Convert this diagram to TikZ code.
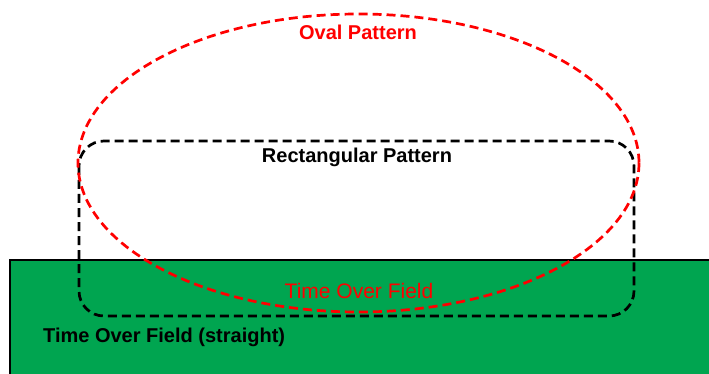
\documentclass[tikz,border=0pt]{standalone}
\usepackage{fontspec}
\setmainfont{Liberation Sans}
\definecolor{fieldgreen}{RGB}{0,165,80}
\definecolor{ovalred}{RGB}{255,0,0}
\begin{document}
\begin{tikzpicture}[x=1pt,y=-1pt,
  pattline/.style={line width=2.7pt,dash pattern=on 9pt off 5pt},
  lbl/.style={inner sep=0pt,font=\fontsize{20}{24}\selectfont\bfseries}]
\useasboundingbox (0,0) rectangle (709,374);
\clip (0,0) rectangle (709,374);
\fill[white] (0,0) rectangle (709,374);
% field
\draw[fill=fieldgreen,line width=2pt] (10,390) -- (10,260) -- (720,260) -- (720,390);
% rectangular pattern
\draw[pattline,black,rounded corners=25pt] (79,141) rectangle (634,316);
% oval pattern
\draw[pattline,ovalred] (358.5,163) ellipse [x radius=280.5, y radius=149];
% labels
\node[lbl,text=ovalred] (oval) at (358,32) {Oval Pattern};
\node[lbl] (rect) at (357,157) {Rectangular Pattern};
\node[inner sep=0pt,font=\fontsize{21}{25}\selectfont,text=ovalred] (tof) at (359,291) {Time Over Field};
\node[lbl,anchor=west] (tofs) at (43,337) {Time Over Field (straight)};
\end{tikzpicture}
\end{document}
